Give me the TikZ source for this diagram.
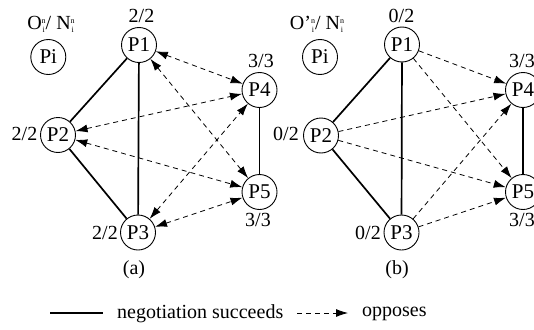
\documentclass[tikz,border=0pt]{standalone}
\usepackage{fontspec}
\setmainfont{Liberation Serif}
\usetikzlibrary{arrows.meta}
\newcommand{\supsubni}{\raisebox{-0.15em}{\fontsize{8}{8.5}\selectfont\shortstack{n\\i}}}
\begin{document}
\begin{tikzpicture}[x=1pt,y=-1pt,
  proc/.style={circle,draw,line width=0.9pt,minimum size=35pt,inner sep=0pt,font=\fontsize{21}{22}\selectfont},
  lbl/.style={font=\fontsize{20}{22}\selectfont,inner sep=0pt},
  leg/.style={font=\fontsize{20}{22}\selectfont,inner sep=0pt},
  agree/.style={line width=1.7pt},
  oppose/.style={line width=0.8pt,dash pattern=on 5pt off 4pt,-{Latex[length=12pt,width=8pt]}},
  oppose2/.style={oppose,{Latex[length=12pt,width=8pt]}-{Latex[length=12pt,width=8pt]}}
]
\useasboundingbox (0,0) rectangle (534,329);
\clip (0,0) rectangle (534,329);

% ---------- (a) ----------
\node[lbl] (ta) at (51,24) {O\supsubni/ N\supsubni};
\node[proc] (pia) at (48.3,57) {Pi};
\node[proc] (a1) at (139,45) {P1};
\node[proc] (a2) at (58,135) {P2};
\node[proc] (a3) at (138,232.5) {P3};
\node[proc] (a4) at (259.5,90) {P4};
\node[proc] (a5) at (259.5,192) {P5};
\node[lbl] (la1) at (141.5,16) {2/2};
\node[lbl] (la4) at (261,61) {3/3};
\node[lbl] (la2) at (24.5,134) {2/2};
\node[lbl] (la3) at (105,233) {2/2};
\node[lbl] (la5) at (258,220) {3/3};
\node[lbl] (capa) at (134,270) {(a)};

\draw[agree] (a1) -- (a2);
\draw[agree] (a2) -- (a3);
\draw[agree] (a1) -- (a3);
\draw[agree] (a4) -- (a5);
\draw[oppose2] (a1) -- (a4);
\draw[oppose2] (a1) -- (a5);
\draw[oppose2] (a2) -- (a4);
\draw[oppose2] (a2) -- (a5);
\draw[oppose2] (a3) -- (a4);
\draw[oppose2] (a3) -- (a5);

% ---------- (b) ----------
\node[lbl] (tb) at (317,24) {O'\supsubni/ N\supsubni};
\node[proc] (pib) at (320,57) {Pi};
\node[proc] (b1) at (402,44.5) {P1};
\node[proc] (b2) at (321,135.5) {P2};
\node[proc] (b3) at (401.5,232.5) {P3};
\node[proc] (b4) at (523,90) {P4};
\node[proc] (b5) at (523,192) {P5};
\node[lbl] (lb1) at (401.5,16) {0/2};
\node[lbl] (lb4) at (522,61) {3/3};
\node[lbl] (lb2) at (286,134) {0/2};
\node[lbl] (lb3) at (368,233) {0/2};
\node[lbl] (lb5) at (522,220) {3/3};
\node[lbl] (capb) at (397,270) {(b)};

\draw[agree] (b1) -- (b2);
\draw[agree] (b2) -- (b3);
\draw[agree] (b1) -- (b3);
\draw[agree] (b4) -- (b5);
\draw[oppose] (b1) -- (b4);
\draw[oppose] (b1) -- (b5);
\draw[oppose] (b2) -- (b4);
\draw[oppose] (b2) -- (b5);
\draw[oppose] (b3) -- (b4);
\draw[oppose] (b3) -- (b5);

% ---------- legend ----------
\coordinate (s1) at (50,313);
\coordinate (s2) at (103,313);
\draw[agree] (s1) -- (s2);
\node[leg,anchor=west] (tneg) at (117,314) {negotiation succeeds};
\coordinate (d1) at (297,313);
\coordinate (d2) at (348,313);
\draw[oppose] (d1) -- (d2);
\node[leg,anchor=west] (topp) at (362,314) {opposes};
\end{tikzpicture}
\end{document}
